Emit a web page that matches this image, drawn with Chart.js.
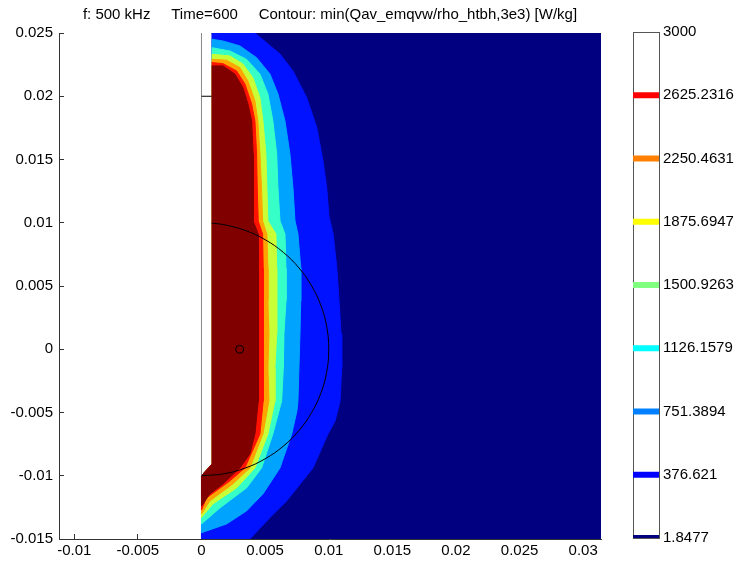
<!DOCTYPE html>
<html>
<head>
<meta charset="utf-8">
<script src="https://cdn.jsdelivr.net/npm/chart.js@4"></script>
<style>
  body { margin: 0; background: #fff; }
  #wrap { position: relative; width: 738px; height: 561px; }
  #main { position: absolute; left: 0; top: 0; }
  #bar { position: absolute; left: 610px; top: 0; }
</style>
</head>
<body>
<div id="wrap">
  <canvas id="main" width="738" height="561"></canvas>
  <canvas id="bar" width="128" height="561"></canvas>
</div>
<script>
// axis ticks
const xTickValues = [-0.01, -0.005, 0, 0.005, 0.01, 0.015, 0.02, 0.025, 0.03];
const xTickLabels = ['-0.01', '-0.005', '0', '0.005', '0.01', '0.015', '0.02', '0.025', '0.03'];
const yTickValues = [-0.015, -0.01, -0.005, 0, 0.005, 0.01, 0.015, 0.02, 0.025];
const yTickLabels = ['-0.015', '-0.01', '-0.005', '0', '0.005', '0.01', '0.015', '0.02', '0.025'];

// contour levels (colorbar)
const levels = [1.8477, 376.621, 751.3894, 1126.1579, 1500.9263, 1875.6947, 2250.4631, 2625.2316, 3000];
const levelLabels = ['1.8477', '376.621', '751.3894', '1126.1579', '1500.9263', '1875.6947', '2250.4631', '2625.2316', '3000'];
const levelColors = ['#000080', '#0000FF', '#0080FF', '#00FFFF', '#80FF80', '#FFFF00', '#FF8000', '#FF0000', null];

// filled band colours, lowest band first
const bandColors = ['#000080', '#0012FF', '#00A4FF', '#37FFC8', '#C8FF37', '#FFA400', '#FF1200', '#800000'];

// model domain outline [x, y] in m
const domain = [[0.0008, 0.025], [0.0314, 0.025], [0.0314, -0.015], [0, -0.015], [0, -0.01], [0.0008, -0.0091]];
const domainChamfer = [[0, -0.01], [0.0008, -0.0091]];

// contour lines, [x, y]
const c376 = [[0.0008, 0.025], [0.0042, 0.025], [0.00617, 0.02334], [0.00719, 0.022], [0.00827, 0.01989],
  [0.00906, 0.01752], [0.00955, 0.01489], [0.00984, 0.01277], [0.01002, 0.0105], [0.01035, 0.0091],
  [0.01063, 0.00645], [0.01081, 0.00382], [0.01097, 0.00121], [0.01102, -0.00145], [0.01089, -0.00409],
  [0.0105, -0.00567], [0.00994, -0.0067], [0.00876, -0.00938], [0.00669, -0.01199], [0.00538, -0.01331],
  [0.0038, -0.015], [0, -0.015]];
const c751 = [[0.0008, 0.02451], [0.00168, 0.02437], [0.00302, 0.02398], [0.00433, 0.02305], [0.00538, 0.02176],
  [0.00601, 0.02018], [0.00656, 0.01805], [0.00695, 0.01544], [0.00719, 0.01275], [0.00735, 0.01014],
  [0.00758, 0.00911], [0.0078, 0.00645], [0.0078, 0.00382], [0.00774, 0.00121], [0.00766, -0.00148],
  [0.00758, -0.00409], [0.0075, -0.00488], [0.00709, -0.0067], [0.00617, -0.00938], [0.00483, -0.01144],
  [0.00354, -0.01278], [0.00197, -0.01381], [0, -0.0145]];
const c1126 = [[0.0008, 0.02384], [0.00223, 0.02358], [0.00354, 0.02292], [0.00459, 0.02176], [0.00522, 0.02018],
  [0.00561, 0.01805], [0.00591, 0.01544], [0.00601, 0.01275], [0.00617, 0.01014], [0.00656, 0.00911],
  [0.00664, 0.00643], [0.00664, 0.00382], [0.00648, 0.00121], [0.00643, -0.00148], [0.0063, -0.00409],
  [0.00609, -0.00488], [0.00561, -0.0067], [0.00472, -0.00938], [0.00354, -0.01096], [0.00144, -0.01255],
  [0, -0.01381]];
const c1500 = [[0.0008, 0.02332], [0.00223, 0.02319], [0.00325, 0.02255], [0.00404, 0.02147], [0.00459, 0.01989],
  [0.00483, 0.01805], [0.00506, 0.01544], [0.00514, 0.01275], [0.00522, 0.01014], [0.00585, 0.00911],
  [0.00591, 0.00643], [0.00591, 0.00382], [0.00591, 0.00121], [0.00577, -0.00148], [0.00577, -0.00409],
  [0.00522, -0.0067], [0.0042, -0.00938], [0.00276, -0.01096], [0.00089, -0.01223], [0, -0.0133]];
const c1875 = [[0.0008, 0.02292], [0.00197, 0.02285], [0.00302, 0.02226], [0.00365, 0.02121], [0.0042, 0.01963],
  [0.00443, 0.01805], [0.00459, 0.01544], [0.00472, 0.01275], [0.0048, 0.01014], [0.00514, 0.00911],
  [0.00522, 0.00643], [0.00522, 0.00382], [0.0053, 0.00121], [0.00522, -0.00148], [0.0053, -0.00409],
  [0.00483, -0.0067], [0.0038, -0.00938], [0.00246, -0.01065], [0.00065, -0.01199], [0, -0.01302]];
const c2250 = [[0.0008, 0.02266], [0.00168, 0.02258], [0.00276, 0.022], [0.00341, 0.02097], [0.00394, 0.01939],
  [0.0042, 0.01805], [0.00433, 0.01544], [0.00438, 0.01275], [0.00446, 0.01014], [0.0048, 0.00911],
  [0.00485, 0.00643], [0.00485, 0.00382], [0.00485, 0.00121], [0.00485, -0.00148], [0.00485, -0.00409],
  [0.00459, -0.0067], [0.00341, -0.00938], [0.00223, -0.01041], [0.00039, -0.01175], [0, -0.0127]];
const c2625 = [[0.0008, 0.0224], [0.00168, 0.0224], [0.00262, 0.02176], [0.00325, 0.02068], [0.00365, 0.01939],
  [0.00394, 0.01805], [0.00406, 0.01544], [0.00406, 0.01275], [0.00406, 0.01014], [0.00446, 0.00911],
  [0.00446, 0.00643], [0.00446, 0.00382], [0.00446, 0.00121], [0.00446, -0.00148], [0.00446, -0.00409],
  [0.0042, -0.0067], [0.0038, -0.00828], [0.00302, -0.00938], [0.00168, -0.01065], [0.00065, -0.01144],
  [0, -0.01239]];
const contours = [c376, c751, c1126, c1500, c1875, c2250, c2625];

// geometry lines
const tissueArc = [[0, -0.01], [0.00174, -0.00985], [0.00342, -0.0094], [0.005, -0.00866], [0.00643, -0.00766],
  [0.00766, -0.00643], [0.00866, -0.005], [0.0094, -0.00342], [0.00985, -0.00174], [0.01, 0],
  [0.00985, 0.00174], [0.0094, 0.00342], [0.00866, 0.005], [0.00766, 0.00643], [0.00643, 0.00766],
  [0.005, 0.00866], [0.00342, 0.0094], [0.00174, 0.00985], [0.0008, 0.00997]];
const axisLine = [[0, 0.025], [0, -0.01]];
const tipEdge = [[0, 0.02], [0.0008, 0.02]];
const probePoint = [[0.003, 0]];

const FONT = 'Arial, "Liberation Sans", sans-serif';
Chart.defaults.font.family = FONT;
Chart.defaults.font.size = 15;
Chart.defaults.color = '#000';

function pts(arr) {
    return arr.map(p => ({ x: p[0], y: p[1] }));
}

const datasets = [];
datasets.push({ data: pts(probePoint), showLine: false, pointRadius: 4, pointBorderWidth: 1,
    pointBorderColor: '#000', pointBackgroundColor: 'rgba(0,0,0,0)', order: 1 });
datasets.push({ data: pts(tissueArc), borderColor: '#000', borderWidth: 1, tension: 0.4, pointRadius: 0, order: 2 });
datasets.push({ data: pts(tipEdge), borderColor: '#000', borderWidth: 1, pointRadius: 0, order: 3 });
datasets.push({ data: pts(axisLine), borderColor: '#8a8a8a', borderWidth: 1, pointRadius: 0, order: 4 });

// filled bands, each region inside a contour closed along the left edge
contours.forEach((c, i) => {
    const col = bandColors[i + 1];
    datasets.push({
        data: pts(c.concat(domainChamfer)),
        borderColor: col, backgroundColor: col, borderWidth: 1,
        pointRadius: 0, fill: 'shape', order: 50 - i
    });
});
datasets.push({ data: pts(domain), borderColor: bandColors[0], backgroundColor: bandColors[0],
    borderWidth: 1, pointRadius: 0, fill: 'shape', order: 100 });

new Chart(document.getElementById('main'), {
    type: 'line',
    data: { datasets: datasets },
    options: {
        responsive: false,
        animation: false,
        events: [],
        layout: { padding: { left: 0, right: 137, top: 0, bottom: 0 } },
        plugins: {
            legend: { display: false },
            tooltip: { enabled: false },
            title: {
                display: true,
                fullSize: false,
                text: 'f: 500 kHz     Time=600     Contour: min(Qav_emqvw/rho_htbh,3e3) [W/kg]',
                font: { size: 15, weight: 'normal' },
                color: '#000',
                padding: { top: 6, bottom: 9 }
            }
        },
        scales: {
            x: {
                type: 'linear',
                min: -0.0112,
                max: 0.0314,
                afterBuildTicks: s => { s.ticks = xTickValues.map(v => ({ value: v })); },
                afterFit: s => { s.height = 22; },
                ticks: { autoSkip: false, maxRotation: 0, minRotation: 0, padding: 8,
                    callback: (v, i) => xTickLabels[i] },
                grid: { drawOnChartArea: false, tickLength: -5, color: '#333' },
                border: { display: true, color: '#333' }
            },
            y: {
                type: 'linear',
                min: -0.015,
                max: 0.025,
                afterBuildTicks: s => { s.ticks = yTickValues.map(v => ({ value: v })); },
                afterFit: s => { s.width = 59; },
                ticks: { autoSkip: false, padding: 11, callback: (v, i) => yTickLabels[i] },
                grid: { drawOnChartArea: false, tickLength: -5, color: '#333' },
                border: { display: true, color: '#333' }
            }
        }
    }
});

// colorbar
const barSets = [];
levels.forEach((lv, i) => {
    if (!levelColors[i]) return;
    barSets.push({ data: [{ x: 0, y: lv }, { x: 1, y: lv }], borderColor: levelColors[i],
        borderWidth: 6, pointRadius: 0, clip: 0 });
});

const edgeAxis = (axis, pos, fit) => ({
    type: 'linear', axis: axis, position: pos,
    min: axis === 'x' ? 0 : levels[0],
    max: axis === 'x' ? 1 : levels[levels.length - 1],
    ticks: { display: false },
    grid: { display: false, drawTicks: false },
    border: { display: true, color: '#555' },
    afterFit: fit
});

new Chart(document.getElementById('bar'), {
    type: 'line',
    data: { datasets: barSets },
    options: {
        responsive: false,
        animation: false,
        events: [],
        layout: { padding: { left: 23, right: 0, top: 32, bottom: 23 } },
        plugins: { legend: { display: false }, tooltip: { enabled: false } },
        scales: {
            x: edgeAxis('x', 'bottom', s => { s.height = 0; }),
            xTop: edgeAxis('x', 'top', s => { s.height = 0; }),
            yLeft: edgeAxis('y', 'left', s => { s.width = 0; }),
            y: {
                type: 'linear',
                position: 'right',
                min: levels[0],
                max: levels[levels.length - 1],
                afterBuildTicks: s => { s.ticks = levels.map(v => ({ value: v })); },
                afterFit: s => { s.width = 79; },
                ticks: { autoSkip: false, padding: 4, callback: (v, i) => levelLabels[i] },
                grid: { display: false, drawTicks: false },
                border: { display: true, color: '#555' }
            }
        }
    }
});
</script>
</body>
</html>
